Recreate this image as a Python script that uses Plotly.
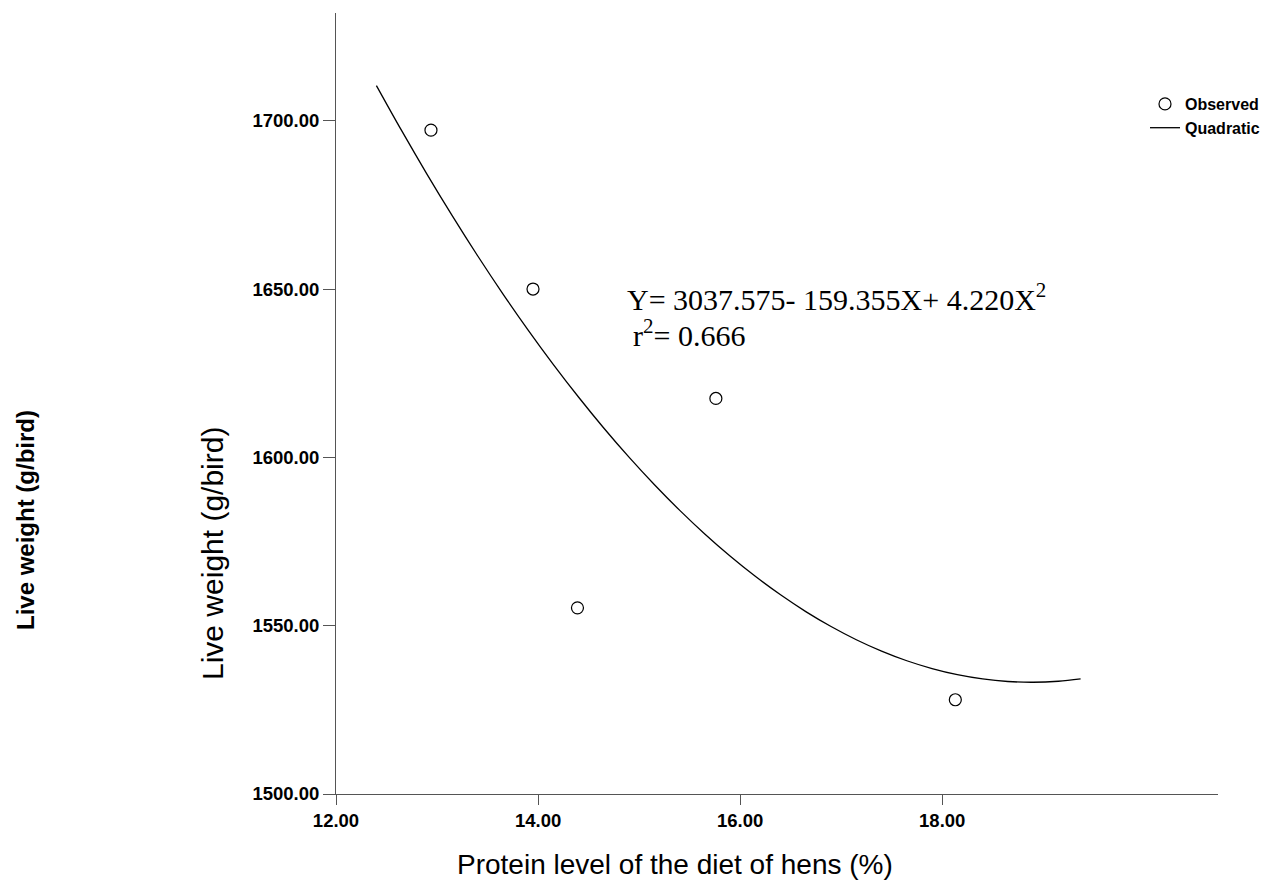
import plotly.graph_objects as go

# Observed data
protein = [12.94, 13.95, 14.39, 15.76, 18.13]
weight = [1697.2, 1650.0, 1555.3, 1617.5, 1528.0]

# Quadratic fit curve (Y = 3037.575 - 159.355X + 4.220X^2)
curve_x = [12.40, 12.65, 12.90, 13.15, 13.40, 13.65, 13.90, 14.15, 14.40, 14.65,
           14.90, 15.15, 15.40, 15.65, 15.90, 16.15, 16.40, 16.65, 16.90, 17.15,
           17.40, 17.65, 17.90, 18.15, 18.40, 18.65, 18.90, 19.15, 19.37]
curve_y = [1710.44, 1697.04, 1684.15, 1671.80, 1659.96, 1648.66, 1637.89, 1627.64, 1617.93, 1608.73,
           1600.07, 1591.94, 1584.32, 1577.24, 1570.69, 1564.66, 1559.17, 1554.19, 1549.75, 1545.83,
           1542.45, 1539.58, 1537.25, 1535.44, 1534.17, 1533.42, 1533.19, 1533.50, 1534.20]

x_ticks = [12, 14, 16, 18]
y_ticks = [1500, 1550, 1600, 1650, 1700]

fig = go.Figure()
fig.add_trace(go.Scatter(
    x=protein, y=weight, mode="markers", name="Observed",
    marker=dict(symbol="circle-open", size=12, color="black", line=dict(width=1.2)),
))
fig.add_trace(go.Scatter(
    x=curve_x, y=curve_y, mode="lines", name="Quadratic", line_shape="spline",
    line=dict(color="black", width=1.3),
))

axis_font = dict(family="Liberation Sans, Arial", size=18.5, color="black", weight="bold")
fig.update_xaxes(
    range=[12, 20.73], tickvals=x_ticks, tickformat=".2f", showgrid=False, zeroline=False,
    showline=True, linecolor="#555555", linewidth=1, ticks="outside", ticklen=10,
    tickcolor="#555555", tickfont=axis_font,
)
fig.update_yaxes(
    range=[1500, 1732], tickvals=y_ticks, tickformat=".2f", showgrid=False, zeroline=False,
    showline=True, linecolor="#555555", linewidth=1, ticks="outside", ticklen=12,
    tickcolor="#555555", tickfont=axis_font,
)

W = 882.0
H = 781.0
fig.update_layout(
    width=1279, height=886,
    margin=dict(l=336, r=61, t=13, b=92),
    plot_bgcolor="white", paper_bgcolor="white",
    font=dict(family="Liberation Sans, Arial", color="black"),
    legend=dict(x=(1145 - 336) / W, y=(794 - 87) / H, xanchor="left", yanchor="top",
                font=dict(family="Liberation Sans, Arial", size=16, color="black", weight="bold"),
                bgcolor="rgba(0,0,0,0)", tracegroupgap=0),
    annotations=[
        dict(text="Live weight (g/bird)", xref="paper", yref="paper",
             x=(25 - 336) / W, y=(794 - 520) / H, textangle=-90, showarrow=False,
             xanchor="center", yanchor="middle",
             font=dict(family="Liberation Sans, Arial", size=24, color="black", weight="bold")),
        dict(text="Live weight (g/bird)", xref="paper", yref="paper",
             x=(212 - 336) / W, y=(794 - 554) / H, textangle=-90, showarrow=False,
             xanchor="center", yanchor="middle",
             font=dict(family="Liberation Sans, Arial", size=30, color="black")),
        dict(text="Protein level of the diet of hens (%)", xref="paper", yref="paper",
             x=(675 - 336) / W, y=(794 - 864) / H, showarrow=False,
             xanchor="center", yanchor="middle",
             font=dict(family="Liberation Sans, Arial", size=28, color="black")),
        dict(text="Y= 3037.575- 159.355X+ 4.220X<sup>2</sup>", xref="paper", yref="paper",
             x=(625 - 336) / W, y=(794 - 297) / H, showarrow=False,
             xanchor="left", yanchor="middle",
             font=dict(family="Liberation Serif, Times New Roman", size=30, color="black")),
        dict(text="r<sup>2</sup>= 0.666", xref="paper", yref="paper",
             x=(631 - 336) / W, y=(794 - 333) / H, showarrow=False,
             xanchor="left", yanchor="middle",
             font=dict(family="Liberation Serif, Times New Roman", size=30, color="black")),
    ],
)

fig.write_html("out.html")
